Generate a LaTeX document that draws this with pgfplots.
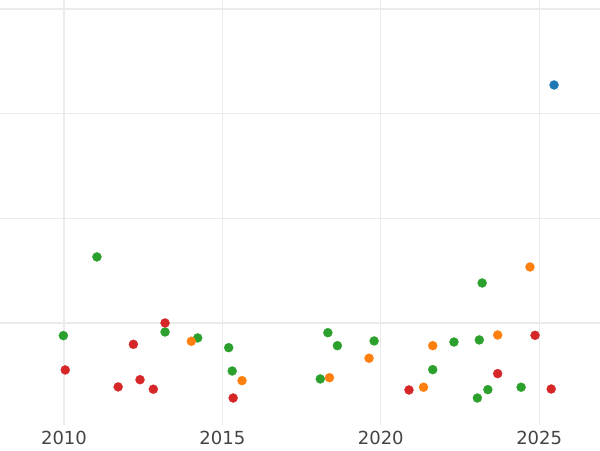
\documentclass[border=0pt]{standalone}
\usepackage{pgfplots}
\pgfplotsset{compat=1.18}
\usepackage{fontspec}
\setmainfont{DejaVu Sans}
\definecolor{tblue}{HTML}{1F77B4}
\definecolor{torange}{HTML}{FF7F0E}
\definecolor{tgreen}{HTML}{2CA02C}
\definecolor{tred}{HTML}{D62728}
\definecolor{gridc}{HTML}{EBEBEB}
\definecolor{tickc}{HTML}{444444}
\begin{document}
\begin{tikzpicture}
\begin{axis}[
  at={(0,0)}, anchor=south west,
  scale only axis, width=450pt, height=318.75pt,
  xmin=2007.98, xmax=2026.92,
  ymin=0.025, ymax=4.086,
  xtick={2010,2015,2020,2025},
  ytick={1,2,3,4}, yticklabels={},
  xticklabel style={font=\fontsize{13.5}{16}\selectfont, text=tickc, yshift=-1pt},
  /pgf/number format/assume math mode=true,
  /pgf/number format/1000 sep={},
  axis line style={draw=none},
  major tick length=0pt,
  grid=major,
  major grid style={gridc, line width=1pt},
  clip=false,
  every axis plot/.append style={only marks, mark=*, mark size=3.4pt},
]
\addplot[mark options={fill=tblue, draw=tblue, line width=0.2pt}] coordinates {(2025.47,3.274)};
\addplot[mark options={fill=tgreen, draw=tgreen, line width=0.2pt}] coordinates {
(2009.98,0.879) (2011.04,1.631) (2013.19,0.914) (2014.22,0.857) (2015.20,0.764)
(2015.31,0.541) (2018.09,0.465) (2018.33,0.907) (2018.63,0.783) (2019.79,0.828)
(2021.64,0.554) (2022.31,0.818) (2023.11,0.838) (2023.20,1.382) (2023.05,0.283)
(2023.38,0.363) (2024.43,0.386)};
\addplot[mark options={fill=tred, draw=tred, line width=0.2pt}] coordinates {
(2013.19,1.0) (2012.19,0.796) (2010.04,0.551) (2011.71,0.389) (2012.40,0.458)
(2012.82,0.367) (2015.34,0.283) (2020.89,0.360) (2023.69,0.516) (2024.87,0.882)
(2025.38,0.369)};
\addplot[mark options={fill=torange, draw=torange, line width=0.2pt}] coordinates {
(2014.02,0.825) (2015.62,0.449) (2018.38,0.477) (2019.63,0.663) (2021.64,0.783)
(2021.35,0.386) (2023.69,0.885) (2024.71,1.535)};
\end{axis}
\pgfresetboundingbox
\path (0,-18.75pt) rectangle (450pt,318.75pt);
\end{tikzpicture}
\end{document}
